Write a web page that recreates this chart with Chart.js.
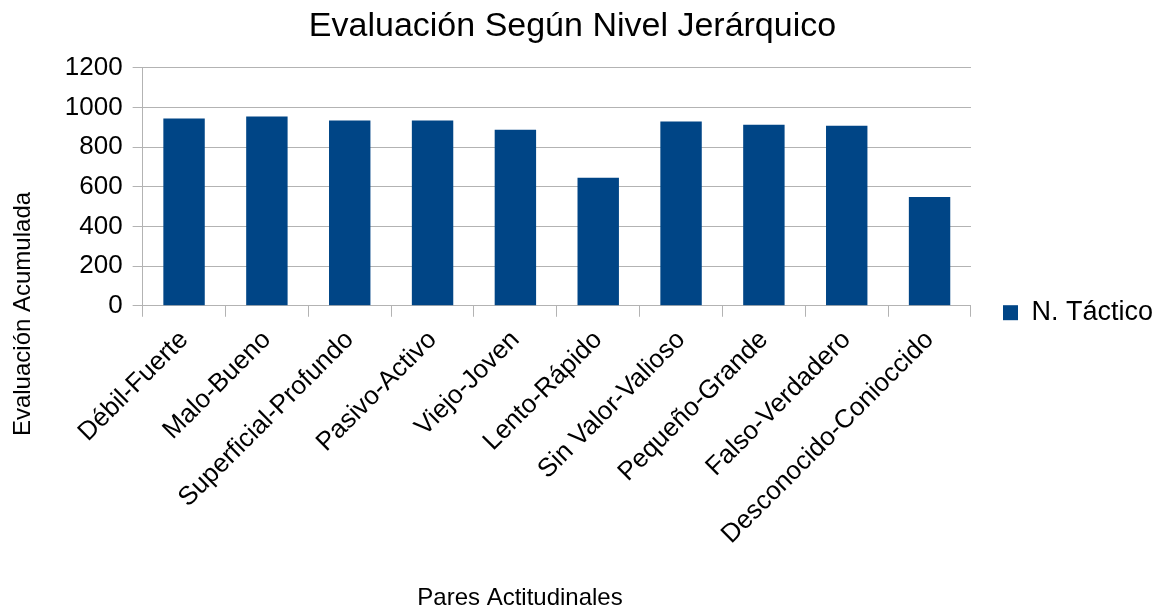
<!DOCTYPE html>
<html>
<head>
<meta charset="utf-8">
<script src="https://cdn.jsdelivr.net/npm/chart.js@4"></script>
<style>
  html, body { margin: 0; padding: 0; background: #fff; }
  #wrap { width: 1167px; height: 611px; }
</style>
</head>
<body>
<div id="wrap"><canvas id="evalChart"></canvas></div>
<script>
const categories = [
    "Débil-Fuerte",
    "Malo-Bueno",
    "Superficial-Profundo",
    "Pasivo-Activo",
    "Viejo-Joven",
    "Lento-Rápido",
    "Sin Valor-Valioso",
    "Pequeño-Grande",
    "Falso-Verdadero",
    "Desconocido-Conioccido"
];
const tacticoValues = [944, 954, 934, 934, 888, 645, 929, 913, 908, 549];
const yTicks = [0, 200, 400, 600, 800, 1000, 1200];
const xTitle = 'Pares Actitudinales';
const yTitle = 'Evaluación Acumulada';

const gridColor = '#b3b3b3';
const fontFamily = '"Liberation Sans", Arial, sans-serif';
const hidden = 'rgba(0,0,0,0)';

// legend sits further from the plot than from the canvas edge
const legendGap = {
    id: 'legendGap',
    beforeInit(chart) {
        const fit = chart.legend.fit;
        chart.legend.fit = function () {
            fit.bind(chart.legend)();
            this.width += 4;
        };
    },
    afterLayout(chart) {
        // main title is centred a bit left of the canvas centre
        chart.titleBlock.right -= 22;
    }
};

// axis titles are centred on the whole diagram, not on the plot area
const axisTitles = {
    id: 'axisTitles',
    afterDraw(chart) {
        const ctx = chart.ctx;
        ctx.save();
        ctx.fillStyle = '#000';
        ctx.font = '24px ' + fontFamily;
        ctx.textAlign = 'center';
        ctx.textBaseline = 'middle';
        ctx.fillText(xTitle, 520, 598);
        ctx.translate(23, 314);
        ctx.rotate(-Math.PI / 2);
        ctx.fillText(yTitle, 0, 0);
        ctx.restore();
    }
};

new Chart("evalChart", {
    type: "bar",
    data: {
        labels: categories,
        datasets: [
            {
                label: 'N. Táctico',
                data: tacticoValues,
                backgroundColor: '#004586',
                borderWidth: 0,
                categoryPercentage: 1,
                barPercentage: 0.5
            }
        ]
    },
    plugins: [legendGap, axisTitles],
    options: {
        responsive: true,
        maintainAspectRatio: false,
        animation: false,
        layout: { padding: 0 },
        plugins: {
            title: {
                display: true,
                text: 'Evaluación Según Nivel Jerárquico',
                color: '#000',
                font: { family: fontFamily, size: 34, weight: 'normal' },
                padding: { top: 6, bottom: 21 }
            },
            legend: {
                position: 'right',
                title: {
                    display: true,
                    text: ' ',
                    padding: 0,
                    font: { family: fontFamily, size: 12 }
                },
                labels: {
                    color: '#000',
                    font: { family: fontFamily, size: 27 },
                    boxWidth: 15,
                    boxHeight: 15,
                    padding: 32
                }
            },
            tooltip: { enabled: false }
        },
        scales: {
            x: {
                grid: {
                    // only the right frame line inside the plot, ticks below the axis
                    color: ctx => ctx.index === categories.length ? gridColor : hidden,
                    tickColor: gridColor,
                    tickLength: 11,
                    offset: true
                },
                border: { color: gridColor },
                ticks: {
                    color: '#000',
                    font: { family: fontFamily, size: 26 },
                    autoSkip: false,
                    minRotation: 45,
                    maxRotation: 45,
                    padding: 8
                },
                title: {
                    display: true,
                    text: xTitle,
                    color: hidden,
                    font: { family: fontFamily, size: 24 },
                    padding: { top: 24, bottom: 0 }
                }
            },
            y: {
                min: 0,
                max: 1200,
                afterBuildTicks(scale) {
                    scale.ticks = yTicks.map(v => ({ value: v }));
                },
                grid: {
                    color: gridColor,
                    tickLength: 10
                },
                border: { color: gridColor },
                ticks: {
                    color: '#000',
                    font: { family: fontFamily, size: 26 },
                    padding: 10,
                    callback: v => String(v)
                },
                title: {
                    display: true,
                    text: yTitle,
                    color: hidden,
                    font: { family: fontFamily, size: 24 },
                    padding: { top: 9, bottom: 17 }
                }
            }
        }
    }
});
</script>
</body>
</html>
